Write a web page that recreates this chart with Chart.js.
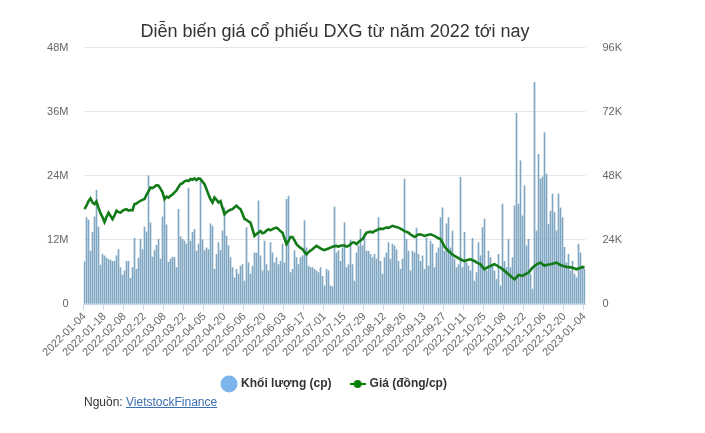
<!DOCTYPE html>
<html>
<head>
<meta charset="utf-8">
<script src="https://cdn.jsdelivr.net/npm/chart.js@4.4.1/dist/chart.umd.min.js"></script>
<style>
  html, body { margin: 0; padding: 0; background: #fff; }
  #wrap { position: relative; width: 705px; height: 433px; }
  #c { position: absolute; left: 0; top: 0; }
  #src { position: absolute; left: 84px; top: 395px; font: 12px "Liberation Sans", Arial, sans-serif; color: #333; }
  #src a { color: #3a6fb0; text-decoration: underline; }
</style>
</head>
<body>
<div id="wrap">
  <canvas id="c" width="670" height="433"></canvas>
  <div id="src">Nguồn: <a href="#">VietstockFinance</a></div>
</div>
<script>
const chartTitle = 'Diễn biến giá cổ phiếu DXG từ năm 2022 tới nay';
const volumeLabel = 'Khối lượng (cp)';
const priceLabel = 'Giá (đồng/cp)';

const xTickLabels = ['2022-01-04','2022-01-18','2022-02-08','2022-02-22','2022-03-08','2022-03-22','2022-04-05','2022-04-20','2022-05-06','2022-05-20','2022-06-03','2022-06-17','2022-07-01','2022-07-15','2022-07-29','2022-08-12','2022-08-26','2022-09-13','2022-09-27','2022-10-11','2022-10-25','2022-11-08','2022-11-22','2022-12-06','2022-12-20','2023-01-04'];

const volumeTicks = [0, 12, 24, 36, 48];      // millions
const priceTicks = [0, 24, 48, 72, 96];       // thousands

// Trading volume, millions of shares (one value per session)
const volume = [
 7.9,16.2,15.7,9.9,13.4,16.3,21.3,14.4,7.3,9.3,
 9.0,8.6,8.3,8.2,8.0,8.0,9.0,10.2,6.8,5.4,
 6.2,8.0,8.0,4.8,6.8,12.3,6.5,8.6,12.1,10.2,
 14.4,13.5,24.0,15.2,8.8,10.0,11.0,12.1,8.4,16.3,
 19.6,14.8,7.8,8.4,8.8,8.7,6.8,17.7,12.6,12.1,
 11.8,11.2,21.7,11.8,13.4,14.0,9.9,11.2,23.0,12.0,
 10.0,10.5,10.2,15.0,14.6,6.5,9.3,11.5,10.0,13.7,
 18.0,12.7,10.9,8.7,6.8,4.9,6.5,5.6,7.1,7.4,
 4.3,14.3,7.7,5.6,7.1,9.6,9.6,19.3,9.0,6.2,
 11.8,7.4,6.2,11.5,9.6,7.7,8.7,7.4,8.0,11.2,
 7.7,19.6,20.2,5.9,6.5,10.0,8.7,7.4,8.7,9.0,
 15.6,10.5,7.1,6.8,6.8,6.5,6.2,5.9,6.8,5.2,
 3.4,6.5,6.2,3.4,3.2,18.2,9.6,10.0,8.0,10.5,
 15.2,6.8,7.4,11.9,7.4,4.3,9.6,10.9,14.0,10.9,
 13.2,9.9,9.9,9.3,8.7,9.3,8.4,16.2,8.0,5.6,
 8.7,9.6,11.5,8.4,11.2,10.9,10.2,8.0,6.5,8.4,
 23.4,12.1,9.9,6.2,9.9,9.6,14.2,9.3,8.0,9.0,
 6.5,12.4,7.1,11.8,11.2,6.8,9.6,10.5,16.2,18.0,
 9.9,15.0,16.2,10.5,13.7,8.4,6.8,7.4,23.7,6.8,
 13.4,7.7,7.1,6.2,12.3,4.3,5.9,11.5,9.0,14.3,
 15.9,6.2,9.9,8.7,7.4,6.2,4.6,9.3,3.4,18.7,
 8.0,6.8,12.1,6.8,8.7,18.4,35.7,18.7,26.8,16.5,
 22.1,10.9,12.1,5.6,2.8,41.5,13.7,28.0,23.4,23.8,
 32.1,24.3,14.9,17.4,20.6,17.1,13.7,20.6,18.0,16.2,
 10.6,7.7,9.3,6.2,8.0,5.6,4.9,11.2,9.6,6.8,
 6.5
];

// Closing price, thousand VND per share
const price = [
 35.5,36.8,38.5,39.5,38.0,37.4,38.4,36.0,34.0,32.5,
 30.7,32.6,34.2,33.0,31.8,33.2,34.9,34.4,34.2,34.9,
 35.3,35.5,35.0,35.2,35.1,37.4,37.6,38.2,38.6,39.0,
 39.3,40.9,42.2,43.6,43.4,43.9,44.5,44.3,43.2,41.8,
 39.3,40.2,39.8,40.5,41.0,41.8,42.5,43.8,44.9,45.2,
 45.9,46.2,46.0,46.8,46.5,47.0,46.4,47.0,46.8,45.8,
 44.9,43.0,41.0,39.2,38.0,39.9,39.0,38.0,38.5,36.0,
 33.6,34.4,34.9,35.3,35.5,36.2,36.8,36.0,35.5,33.8,
 31.8,31.5,30.9,30.5,28.0,25.5,26.2,26.7,27.3,26.5,
 26.7,27.5,28.0,27.6,28.0,28.4,28.6,28.0,27.2,26.7,
 24.5,22.4,23.6,25.1,25.1,23.8,22.4,21.6,21.0,20.5,
 19.5,18.6,19.4,20.0,20.5,21.2,21.75,21.3,20.8,20.4,
 20.2,20.5,20.8,21.1,21.4,21.6,21.75,21.5,21.8,21.9,
 21.9,21.5,21.75,22.4,23.0,23.0,22.4,23.2,23.8,24.3,
 25.5,26.7,26.9,27.1,26.8,27.3,27.6,28.0,28.2,28.0,
 28.4,28.6,28.5,28.9,29.25,29.0,28.8,28.6,28.2,27.8,
 27.3,27.0,26.7,26.0,25.6,25.1,25.6,26.0,26.1,25.8,
 25.5,25.7,25.9,26.1,25.8,25.5,25.0,24.6,24.3,23.0,
 21.5,20.6,19.8,19.2,18.5,18.0,17.6,17.2,16.75,16.4,
 16.1,16.4,16.6,16.75,16.4,16.1,15.6,15.2,14.9,13.9,
 13.0,13.5,13.9,14.3,14.6,14.9,14.5,14.0,13.6,13.0,
 12.4,11.8,11.1,10.5,9.8,9.25,10.0,10.9,10.7,10.5,
 11.0,11.4,11.75,12.7,13.6,14.2,14.8,15.2,15.5,14.9,
 14.3,14.6,14.8,14.9,15.1,15.3,15.5,15.0,14.6,14.3,
 14.1,13.9,13.8,13.7,13.6,13.3,13.0,13.3,13.6,13.9,
 13.6
];

const labels = volume.map((_, i) => (i % 10 === 0 ? xTickLabels[i / 10] : ''));

// legend marker for the price series: a short line with a dot
function lineDotMarker(color) {
  const c = document.createElement('canvas');
  c.width = 16; c.height = 10;
  const g = c.getContext('2d');
  g.strokeStyle = color; g.lineWidth = 2;
  g.beginPath(); g.moveTo(0, 5); g.lineTo(16, 5); g.stroke();
  g.fillStyle = color;
  g.beginPath(); g.arc(8, 5, 4, 0, Math.PI * 2); g.fill();
  return c;
}
const priceMarker = lineDotMarker('#008000');

const FONT = '"Liberation Sans", Arial, sans-serif';
Chart.defaults.font.family = FONT;

new Chart(document.getElementById('c'), {
  data: {
    labels: labels,
    datasets: [
      {
        type: 'line',
        label: priceLabel,
        data: price,
        yAxisID: 'yPrice',
        borderColor: '#127a16',
        backgroundColor: '#008000',
        borderWidth: 2.6,
        pointRadius: 0,
        pointHoverRadius: 0,
        tension: 0,
        pointStyle: priceMarker,
        order: 1
      },
      {
        type: 'bar',
        label: volumeLabel,
        data: volume,
        yAxisID: 'yVol',
        backgroundColor: '#7fa7c3',
        borderWidth: 0,
        barThickness: 1,
        pointStyle: 'circle',
        order: 2
      }
    ]
  },
  options: {
    responsive: false,
    animation: false,
    events: [],
    layout: { padding: { left: 0, right: 0, top: 0, bottom: 33 } },
    plugins: {
      title: {
        display: true,
        text: chartTitle,
        color: '#333333',
        font: { family: FONT, size: 18, weight: 'normal' },
        padding: { top: 21, bottom: 5 }
      },
      legend: {
        position: 'bottom',
        reverse: true,
        labels: {
          usePointStyle: true,
          color: '#333333',
          font: { family: FONT, size: 12, weight: 'bold' },
          boxWidth: 12, boxHeight: 12,
          padding: 20,
          generateLabels(chart) {
            return chart.data.datasets.map((ds, i) => ({
              text: ds.label,
              datasetIndex: i,
              fillStyle: ds.type === 'bar' ? '#7cb5ec' : '#008000',
              strokeStyle: ds.type === 'bar' ? '#7cb5ec' : '#008000',
              lineWidth: 0,
              pointStyle: ds.pointStyle,
              fontColor: '#333333',
              hidden: false
            }));
          }
        }
      },
      tooltip: { enabled: false }
    },
    scales: {
      x: {
        type: 'category',
        offset: true,
        grid: {
          display: true,
          offset: true,
          drawOnChartArea: false,
          drawTicks: true,
          tickLength: 6,
          tickColor: (ctx) => (ctx.index % 10 === 0 ? '#ccd6eb' : 'rgba(0,0,0,0)')
        },
        border: { display: true, color: '#ccd6eb' },
        ticks: {
          autoSkip: false,
          minRotation: 45,
          maxRotation: 45,
          color: '#666666',
          font: { family: FONT, size: 11 },
          padding: 0
        },
        afterFit(scale) { scale.height = 54; }
      },
      yVol: {
        type: 'linear',
        position: 'left',
        min: 0, max: 48,
        afterBuildTicks(scale) { scale.ticks = volumeTicks.map(v => ({ value: v })); },
        grid: { color: '#e6e6e6', drawTicks: false },
        border: { display: false },
        ticks: {
          color: '#666666',
          font: { family: FONT, size: 11 },
          padding: 15,
          callback: (v) => (v === 0 ? '0' : v + 'M')
        },
        afterFit(scale) { scale.width = 83.5; }
      },
      yPrice: {
        type: 'linear',
        position: 'right',
        min: 0, max: 96,
        afterBuildTicks(scale) { scale.ticks = priceTicks.map(v => ({ value: v })); },
        grid: { drawOnChartArea: false, drawTicks: false },
        border: { display: false },
        ticks: {
          color: '#666666',
          font: { family: FONT, size: 11 },
          padding: 17,
          callback: (v) => (v === 0 ? '0' : v + 'K')
        },
        afterFit(scale) { scale.width = 84.5; }
      }
    }
  }
});
</script>
</body>
</html>
